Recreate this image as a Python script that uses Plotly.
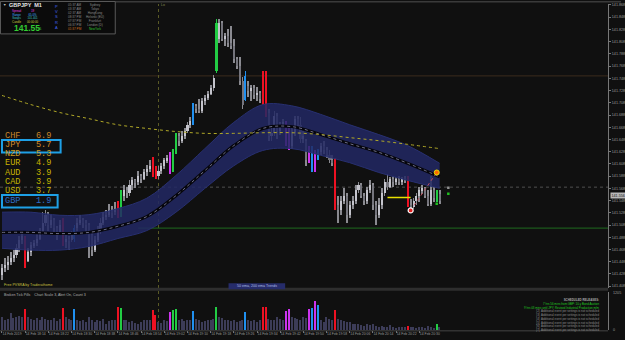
import plotly.graph_objects as go

W, H = 625, 340
BG = '#101010'

# ---------------- data ----------------
time_labels = ["14 Feb 2019", "14 Feb 18:14", "14 Feb 18:22", "14 Feb 18:30", "14 Feb 18:38",
               "14 Feb 18:46", "14 Feb 18:54", "14 Feb 19:02", "14 Feb 19:10", "14 Feb 19:18",
               "14 Feb 19:26", "14 Feb 19:34", "14 Feb 19:42", "14 Feb 19:50", "14 Feb 19:58",
               "14 Feb 20:06", "14 Feb 20:14", "14 Feb 20:22", "14 Feb 20:30"]
time_idx = [0, 8, 16, 24, 32, 40, 48, 56, 64, 72, 80, 88, 96, 104, 112, 120, 128, 136, 144]

price_ticks = [141.408, 141.428, 141.448, 141.468, 141.488, 141.508, 141.528, 141.548, 141.568,
               141.588, 141.608, 141.628, 141.648, 141.668, 141.688, 141.708, 141.728, 141.748,
               141.768, 141.788, 141.808, 141.828, 141.848, 141.868]

opens = [141.426, 141.437, 141.442, 141.447, 141.454, 141.459, 141.470, 141.483, 141.483, 141.450,
         141.464, 141.475, 141.478, 141.486, 141.496, 141.512, 141.524, 141.508, 141.516, 141.503,
         141.496, 141.512, 141.480, 141.486, 141.483, 141.485, 141.504, 141.512, 141.516, 141.512,
         141.508, 141.491, 141.467, 141.483, 141.499, 141.512, 141.522, 141.525, 141.532, 141.529,
         141.540, 141.527, 141.556, 141.565, 141.561, 141.573, 141.581, 141.578, 141.589, 141.584,
         141.594, 141.600, 141.614, 141.600, 141.589, 141.597, 141.605, 141.614, 141.622, 141.597,
         141.630, 141.654, 141.646, 141.654, 141.662, 141.671, 141.676, 141.703, 141.698, 141.695,
         141.711, 141.716, 141.723, 141.733, 141.760, 141.813, 141.839, 141.813, 141.817, 141.806,
         141.801, 141.780, 141.768, 141.744, 141.713, 141.736, 141.728, 141.733, 141.720, 141.724,
         141.723, 141.708, 141.692, 141.654, 141.659, 141.687, 141.662, 141.671, 141.676, 141.662,
         141.638, 141.659, 141.682, 141.671, 141.649, 141.646, 141.614, 141.633, 141.600, 141.622,
         141.627, 141.638, 141.630, 141.622, 141.614, 141.610, 141.540, 141.532, 141.548, 141.556,
         141.524, 141.540, 141.548, 141.565, 141.573, 141.556, 141.548, 141.565, 141.573, 141.540,
         141.524, 141.540, 141.561, 141.578, 141.571, 141.584, 141.578, 141.583, 141.579, 141.584,
         141.584, 141.540, 141.537, 141.548, 141.556, 141.565, 141.568, 141.556, 141.542, 141.565,
         141.552, 141.558]
highs = [141.444, 141.454, 141.457, 141.464, 141.467, 141.477, 141.490, 141.496, 141.490, 141.470,
         141.480, 141.483, 141.493, 141.503, 141.529, 141.532, 141.529, 141.524, 141.519, 141.506,
         141.516, 141.519, 141.493, 141.490, 141.499, 141.508, 141.519, 141.524, 141.520, 141.516,
         141.512, 141.496, 141.490, 141.506, 141.519, 141.529, 141.532, 141.542, 141.539, 141.545,
         141.548, 141.565, 141.573, 141.571, 141.581, 141.587, 141.584, 141.597, 141.592, 141.600,
         141.607, 141.614, 141.620, 141.605, 141.604, 141.610, 141.618, 141.623, 141.627, 141.633,
         141.659, 141.658, 141.662, 141.667, 141.676, 141.684, 141.708, 141.706, 141.715, 141.716,
         141.721, 141.728, 141.737, 141.754, 141.845, 141.845, 141.842, 141.822, 141.829, 141.834,
         141.813, 141.783, 141.783, 141.751, 141.760, 141.744, 141.737, 141.737, 141.734, 141.728,
         141.760, 141.760, 141.698, 141.666, 141.695, 141.692, 141.676, 141.682, 141.679, 141.666,
         141.666, 141.687, 141.687, 141.685, 141.662, 141.649, 141.638, 141.638, 141.630, 141.633,
         141.643, 141.646, 141.636, 141.630, 141.622, 141.617, 141.556, 141.556, 141.568, 141.560,
         141.548, 141.556, 141.573, 141.578, 141.576, 141.561, 141.571, 141.581, 141.576, 141.548,
         141.552, 141.568, 141.584, 141.591, 141.587, 141.589, 141.587, 141.589, 141.587, 141.589,
         141.589, 141.550, 141.553, 141.561, 141.570, 141.573, 141.571, 141.565, 141.589, 141.571,
         141.565, 141.565]
lows = [141.418, 141.431, 141.434, 141.442, 141.447, 141.454, 141.464, 141.477, 141.437, 141.447,
        141.457, 141.470, 141.473, 141.483, 141.491, 141.506, 141.499, 141.503, 141.496, 141.483,
        141.491, 141.473, 141.470, 141.467, 141.480, 141.480, 141.499, 141.508, 141.503, 141.496,
        141.454, 141.457, 141.464, 141.480, 141.493, 141.508, 141.516, 141.522, 141.519, 141.525,
        141.519, 141.522, 141.548, 141.552, 141.556, 141.565, 141.568, 141.573, 141.576, 141.581,
        141.589, 141.594, 141.587, 141.584, 141.584, 141.592, 141.600, 141.609, 141.592, 141.594,
        141.625, 141.638, 141.643, 141.649, 141.658, 141.666, 141.671, 141.692, 141.692, 141.692,
        141.705, 141.713, 141.720, 141.728, 141.757, 141.806, 141.809, 141.801, 141.800, 141.796,
        141.773, 141.764, 141.737, 141.698, 141.711, 141.718, 141.711, 141.715, 141.711, 141.708,
        141.705, 141.684, 141.646, 141.646, 141.653, 141.649, 141.656, 141.666, 141.638, 141.630,
        141.633, 141.654, 141.666, 141.643, 141.643, 141.605, 141.610, 141.594, 141.594, 141.614,
        141.622, 141.625, 141.617, 141.609, 141.604, 141.532, 141.512, 141.525, 141.542, 141.512,
        141.519, 141.535, 141.543, 141.560, 141.552, 141.540, 141.543, 141.560, 141.532, 141.508,
        141.519, 141.535, 141.556, 141.565, 141.568, 141.571, 141.573, 141.574, 141.573, 141.576,
        141.537, 141.532, 141.534, 141.540, 141.545, 141.558, 141.552, 141.539, 141.539, 141.545,
        141.545, 141.542]
closes = [141.437, 141.442, 141.447, 141.454, 141.459, 141.470, 141.483, 141.490, 141.450, 141.464,
          141.475, 141.478, 141.486, 141.496, 141.512, 141.524, 141.508, 141.516, 141.503, 141.496,
          141.508, 141.480, 141.486, 141.483, 141.491, 141.504, 141.512, 141.516, 141.512, 141.508,
          141.491, 141.467, 141.483, 141.499, 141.512, 141.522, 141.525, 141.532, 141.529, 141.535,
          141.524, 141.556, 141.565, 141.561, 141.573, 141.581, 141.578, 141.589, 141.584, 141.594,
          141.600, 141.605, 141.594, 141.589, 141.597, 141.605, 141.614, 141.617, 141.597, 141.630,
          141.654, 141.646, 141.654, 141.662, 141.671, 141.679, 141.703, 141.698, 141.695, 141.711,
          141.716, 141.723, 141.733, 141.749, 141.839, 141.839, 141.813, 141.817, 141.806, 141.801,
          141.780, 141.768, 141.744, 141.705, 141.752, 141.728, 141.733, 141.720, 141.724, 141.715,
          141.708, 141.692, 141.654, 141.659, 141.687, 141.662, 141.671, 141.676, 141.646, 141.638,
          141.659, 141.682, 141.671, 141.649, 141.654, 141.614, 141.633, 141.600, 141.622, 141.627,
          141.638, 141.630, 141.622, 141.614, 141.610, 141.540, 141.532, 141.548, 141.556, 141.524,
          141.540, 141.548, 141.565, 141.573, 141.556, 141.548, 141.565, 141.573, 141.540, 141.524,
          141.540, 141.561, 141.578, 141.571, 141.584, 141.578, 141.583, 141.579, 141.584, 141.581,
          141.540, 141.537, 141.548, 141.556, 141.565, 141.568, 141.556, 141.542, 141.565, 141.552,
          141.558, 141.548]
volumes = [420, 300, 350, 540, 380, 400, 450, 420, 650, 400,
           350, 330, 380, 300, 420, 350, 300, 330, 380, 280,
           350, 690, 400, 350, 300, 660, 330, 280, 300, 250,
           400, 330, 250, 300, 280, 350, 200, 280, 300, 330,
           720, 690, 300, 330, 250, 280, 230, 200, 250, 300,
           330, 300, 620, 480, 250, 230, 300, 280, 580, 640,
           680, 300, 350, 280, 300, 330, 600, 350, 300, 250,
           280, 330, 300, 350, 720, 400, 380, 300, 330, 280,
           300, 250, 280, 330, 560, 300, 280, 330, 250, 300,
           740, 730, 350, 300, 330, 400, 350, 300, 610, 680,
           400, 380, 350, 330, 400, 380, 650, 700, 930, 800,
           300, 250, 400, 350, 300, 620, 350, 300, 280, 250,
           250, 200, 180, 200, 150, 120, 180, 150, 200, 120,
           100, 120, 80, 100, 150, 80, 60, 100, 80, 90,
           120, 80, 100, 60, 90, 80, 70, 120, 90, 60,
           180, 80]

red_idx = [8, 21, 40, 52, 53, 90, 91, 115, 140]
green_idx = [41, 59, 60, 74, 150]
blue_idx = [25, 66, 84, 107, 109]
magenta_idx = [58, 98, 99, 106, 108]

band_idx = [0, 10, 20, 30, 40, 50, 60, 70, 80, 90, 100, 110, 120, 130, 140, 151]
band_upper = [141.529, 141.529, 141.524, 141.525, 141.535, 141.552, 141.589, 141.633, 141.676, 141.705,
              141.703, 141.689, 141.672, 141.656, 141.638, 141.609]
band_mid = [141.496, 141.496, 141.494, 141.496, 141.506, 141.522, 141.556, 141.597, 141.638, 141.666,
            141.669, 141.656, 141.641, 141.627, 141.609, 141.587]
band_lower = [141.470, 141.467, 141.467, 141.473, 141.486, 141.499, 141.529, 141.568, 141.605, 141.630,
              141.633, 141.622, 141.610, 141.594, 141.581, 141.568]
ema200 = [141.720, 141.705, 141.692, 141.682, 141.672, 141.666, 141.661, 141.658, 141.658, 141.659,
          141.659, 141.656, 141.651, 141.646, 141.640, 141.633]

strength_ccy = ["CHF", "JPY", "NZD", "EUR", "AUD", "CAD", "USD", "GBP"]
strength_val = [6.9, 5.7, 5.3, 4.9, 3.9, 3.9, 3.7, 1.9]
strength_col = ['#c8842a', '#d08a2a', '#c89a20', '#c8b000', '#c8b400', '#c0b400', '#c0b000', '#2e6ec8']

cities = ['Sydney', 'Tokyo', 'HongKong', 'Helsinki (EU)', 'Frankfurt', 'London (D)', 'NewYork']
city_times = ['05:37 AM', '03:37 AM', '02:37 AM', '08:37 PM', '07:37 PM', '06:37 PM', '01:37 PM']
info_labels = ['Spread', 'Range', 'Swaps', 'Candle']
info_values = ['19', '65.0%', '101.401', '00:00:00']
info_colors = ['#e040e0', '#40b0ff', '#40c0c0', '#d0d040']
release_lines = ['7 hrs 56 mins from GBP: 10-y Bond Auction',
                 '9 hrs 03 mins until JPY: Revised Industrial Production m/m']
pending_lines = ['[%d]  Additional event per settings is not scheduled' % k for k in range(2, 8)]

# ---------------- geometry helpers ----------------
PX0, PX1 = 0, 612          # plot area x pixels
BAR_PX = 2.917             # pixels per bar
X0_PX = 2                  # pixel of bar 0
x_range = [-(X0_PX - PX0) / BAR_PX, (PX1 - X0_PX) / BAR_PX]
main_top, main_bot = 3, 288
vol_top, vol_bot = 292, 330
y_range = [141.8745 - 0.001631 * main_bot, 141.8745 - 0.001631 * main_top]


def dom_y(top, bot):
    return [1 - bot / H, 1 - top / H]


n = len(opens)
idx = list(range(n))
col_map = {}
for i in red_idx:
    col_map[i] = '#ee1122'
for i in green_idx:
    col_map[i] = '#22cc44'
for i in blue_idx:
    col_map[i] = '#2090f0'
for i in magenta_idx:
    col_map[i] = '#cc33ee'

body_col, wick_col, vol_col, body_base, body_h = [], [], [], [], []
for i in idx:
    o, c = opens[i], closes[i]
    if i in col_map:
        body_col.append(col_map[i]); wick_col.append(col_map[i]); vol_col.append(col_map[i])
    else:
        body_col.append('#c4c4cc' if c >= o else '#74747c')
        wick_col.append('#8a8a90')
        vol_col.append('#3c3c58')
    body_base.append(min(o, c))
    body_h.append(max(abs(c - o), 0.0008))

fig = go.Figure()

# EMA band
fig.add_trace(go.Scatter(x=band_idx, y=band_upper, mode='lines', line=dict(color='#283070', width=1, shape='spline'),
                         hoverinfo='skip', showlegend=False))
fig.add_trace(go.Scatter(x=band_idx, y=band_lower, mode='lines', line=dict(color='#283070', width=1, shape='spline'),
                         fill='tonexty', fillcolor='rgba(34,40,100,0.85)', hoverinfo='skip', showlegend=False))
fig.add_trace(go.Scatter(x=band_idx, y=band_mid, mode='lines', line=dict(color='#06060c', width=3, shape='spline'),
                         hoverinfo='skip', showlegend=False))
fig.add_trace(go.Scatter(x=band_idx, y=band_mid, mode='lines', line=dict(color='#8a8aa8', width=0.8, dash='dot', shape='spline'),
                         hoverinfo='skip', showlegend=False))
fig.add_trace(go.Scatter(x=band_idx, y=ema200, mode='lines', line=dict(color='#b0a828', width=1, dash='dot', shape='spline'),
                         hoverinfo='skip', showlegend=False))

# candles
fig.add_trace(go.Bar(x=idx, y=[highs[i] - lows[i] for i in idx], base=lows, width=0.3,
                     marker=dict(color=wick_col, line=dict(width=0)), hoverinfo='skip', showlegend=False))
fig.add_trace(go.Bar(x=idx, y=body_h, base=body_base, width=0.72,
                     marker=dict(color=body_col, line=dict(width=0)), hoverinfo='skip', showlegend=False))

# trade markers
fig.add_trace(go.Scatter(x=[133, 141], y=[141.553, 141.553], mode='lines', line=dict(color='#e8e000', width=1.5),
                         hoverinfo='skip', showlegend=False))
fig.add_trace(go.Scatter(x=[141, 150], y=[141.532, 141.594], mode='lines', line=dict(color='#c05060', width=1, dash='dot'),
                         hoverinfo='skip', showlegend=False))
fig.add_trace(go.Scatter(x=[141], y=[141.532], mode='markers', marker=dict(color='#e02020', size=5, line=dict(color='white', width=1.2)),
                         hoverinfo='skip', showlegend=False))
fig.add_trace(go.Scatter(x=[150], y=[141.594], mode='markers', marker=dict(color='#ff6a00', size=5, line=dict(color='#e8e000', width=1)),
                         hoverinfo='skip', showlegend=False))
fig.add_trace(go.Scatter(x=[150, 154], y=[141.543, 141.559], mode='markers', marker=dict(color='#20c020', size=2.5, symbol='square'),
                         hoverinfo='skip', showlegend=False))
fig.add_trace(go.Scatter(x=[154], y=[141.569], mode='markers', marker=dict(color='#909090', size=2.5, symbol='square'),
                         hoverinfo='skip', showlegend=False))

# volume
fig.add_trace(go.Bar(x=idx, y=volumes, width=0.45, xaxis='x2', yaxis='y2',
                     marker=dict(color=vol_col, line=dict(width=0)), hoverinfo='skip', showlegend=False))

AX = dict(showgrid=False, zeroline=False)
fig.update_layout(
    width=W, height=H, margin=dict(l=0, r=0, t=0, b=0),
    paper_bgcolor=BG, plot_bgcolor=BG, barmode='overlay', bargap=0,
    xaxis=dict(domain=[PX0 / W, PX1 / W], range=x_range, showticklabels=False, ticks='', anchor='y', **AX),
    yaxis=dict(domain=dom_y(main_top, main_bot), range=y_range, side='right', tickvals=price_ticks,
               ticktext=['%.3f' % v for v in price_ticks], ticks='outside', ticklen=2, tickcolor='#777',
               tickfont=dict(size=3.7, color='#9a9a9a', family='Liberation Sans'),
               showline=True, linecolor='#777', linewidth=1, anchor='x', **AX),
    xaxis2=dict(domain=[PX0 / W, PX1 / W], range=x_range, anchor='y2', tickvals=time_idx, ticktext=time_labels,
                ticks='outside', ticklen=2, tickcolor='#777', ticklabelposition='outside right', tickangle=0,
                tickfont=dict(size=3.4, color='#9a9a9a', family='Liberation Sans'), **AX),
    yaxis2=dict(domain=dom_y(vol_top, vol_bot), range=[0, 1205], side='right', showticklabels=False, ticks='',
                showline=True, linecolor='#777', linewidth=1, anchor='x2', **AX),
)

shapes = []
ann = []


def P(x, y):
    return x / W, 1 - y / H


def txt(x, y, s, size, color, anchor='left', family='Liberation Sans', **kw):
    xp, yp = P(x, y)
    ann.append(dict(x=xp, y=yp, xref='paper', yref='paper', text=s, showarrow=False, xanchor=anchor,
                    yanchor='middle', font=dict(size=size, color=color, family=family), borderpad=0, **kw))


def rect(x0, y0, x1, y1, fill=None, line=None, lw=1):
    a, b = P(x0, y0)
    c, d = P(x1, y1)
    shapes.append(dict(type='rect', xref='paper', yref='paper', x0=a, y0=d, x1=c, y1=b,
                       fillcolor=fill if fill else 'rgba(0,0,0,0)',
                       line=dict(color=line if line else 'rgba(0,0,0,0)', width=lw if line else 0), layer='above'))


def span(s, c):
    return '<span style="color:%s">%s</span>' % (c, s)


# frame lines
rect(0, 0, 625, 1.5, fill='#3a3a3a')
rect(0, 287.5, 612, 290.5, fill='#2e2e2e')
rect(0, 330.5, 612, 331.2, fill='#555555')

# horizontal price lines
shapes.append(dict(type='line', xref='paper', yref='y', x0=0, x1=PX1 / W, y0=141.752, y1=141.752,
                   line=dict(color='#3c2c1c', width=1), layer='below'))
shapes.append(dict(type='line', xref='x', yref='y', x0=47, x1=x_range[1], y0=141.503, y1=141.503,
                   line=dict(color='#1f6a1f', width=1), layer='below'))
shapes.append(dict(type='line', xref='paper', yref='y', x0=0, x1=PX1 / W, y0=141.570, y1=141.570,
                   line=dict(color='#505050', width=1, dash='dot'), layer='below'))
# vertical separator
shapes.append(dict(type='line', xref='x', yref='paper', x0=54, x1=54, y0=1 - vol_bot / H, y1=1 - main_top / H,
                   line=dict(color='#5a5a26', width=1, dash='dot'), layer='below'))
txt(161, 4.5, 'Lo', 3.5, '#8a8a50')

# info box
rect(0.5, 0.5, 116, 33, fill='#0b0b0b', line='#5a5a5a', lw=1)
txt(2, 4, '▼', 3.5, '#c0c0c0')
txt(8, 4.5, '<b>GBPJPY  M1</b>', 5.5, '#e6e6e6')
txt(11, 15.7, '<br>'.join(span(s, c) for s, c in zip(info_labels, info_colors)), 2.85, '#aaaaaa')
txt(26, 15.7, '<br>'.join(span(s, c) for s, c in zip(info_values, info_colors)), 2.85, '#aaaaaa')
txt(13, 27, '<b>141.55</b>', 8.5, '#33cc33')
txt(38.5, 27.8, '6', 4.2, '#33cc33')
txt(57, 16.5, '<br>'.join(['P', 'V', 'S', 'R', 'A']), 4.0, '#4466ee', anchor='center')
txt(67, 16, '<br>'.join(span(t, '#d07020' if k == 6 else '#8a8a8a') for k, t in enumerate(city_times)), 3.1, '#8a8a8a')
txt(86, 16, '<br>'.join(span(t, '#30c030' if k == 6 else '#8a8a8a') for k, t in enumerate(cities)), 3.1, '#8a8a8a')

# currency strength
for k, (cc, vv, colr) in enumerate(zip(strength_ccy, strength_val, strength_col)):
    txt(4, 135 + k * 9.3, '%s   %.1f' % (cc, vv), 8.6, colr, family='Liberation Mono')
rect(2, 139.5, 61, 152, line='#1ea0e6', lw=2)
rect(2, 194.5, 58, 207, line='#1ea0e6', lw=2)

# labels
txt(3, 285, 'Free PVSRA by Traderathome', 3.6, '#c8c040')
rect(230, 283, 287, 289, fill='#262c6a')
txt(258.5, 286, '50 ema, 200 ema Trends', 3.6, '#b0b8e0', anchor='center')
txt(3, 294.5, 'Broken Tick Pills    Chart Scale 3, Alert On, Count 3', 3.6, '#b0b0b0')
block = ['<b>SCHEDULED RELEASES:</b>'] + [span(s, '#22cc22') for s in release_lines] + \
        [span(s, '#8c8c8c') for s in pending_lines]
ann.append(dict(x=605 / W, y=1 - 314.5 / H, xref='paper', yref='paper', text='<br>'.join(block), showarrow=False,
                xanchor='right', yanchor='middle', align='right',
                font=dict(size=2.9, color='#a8a8a8', family='Liberation Sans'), borderpad=0))

# right axis extra labels
txt(616, 293, '1205', 3.7, '#9a9a9a')
txt(616, 330, '0', 3.7, '#9a9a9a')
ann.append(dict(x=613.5 / W, y=141.556, xref='paper', yref='y', text='141.556', showarrow=False, xanchor='left',
                yanchor='middle', font=dict(size=3.7, color='#101010', family='Liberation Sans'),
                bgcolor='#b8b8b8', borderpad=0.5))

fig.update_layout(shapes=shapes, annotations=ann)
fig.write_html("out.html")
